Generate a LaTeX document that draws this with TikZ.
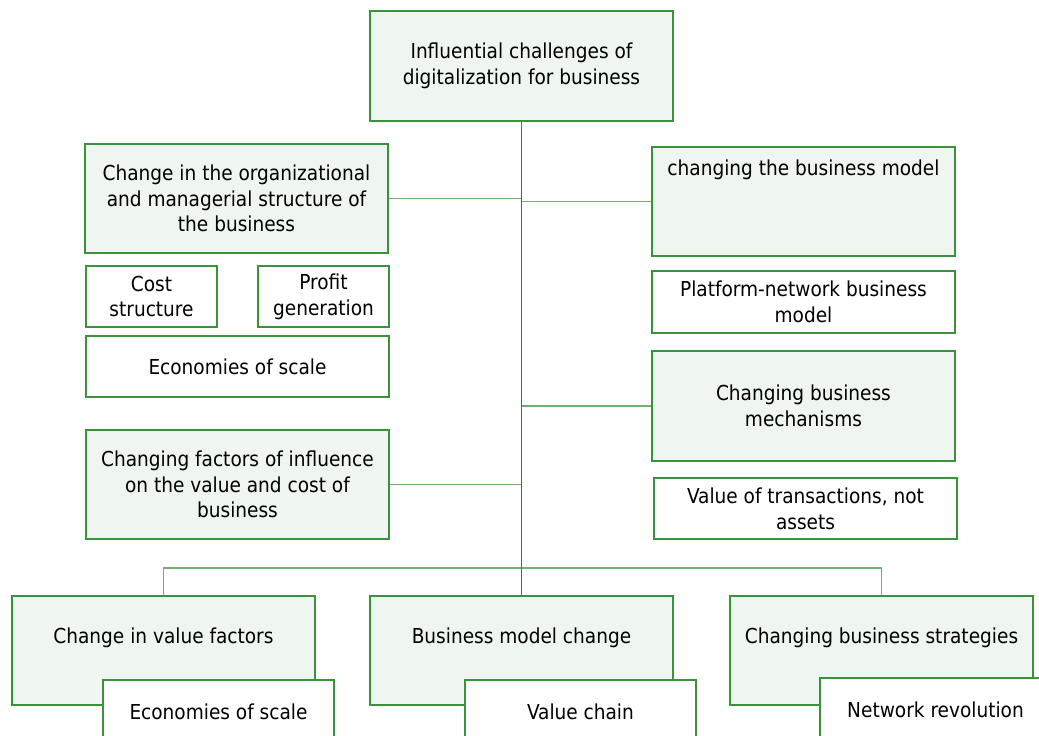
\documentclass[tikz,border=0pt]{standalone}
\usepackage{fontspec}
\setmainfont{DejaVu Sans Condensed}
\definecolor{bgreen}{HTML}{3A933A}
\definecolor{dgreen}{HTML}{2A862A}
\definecolor{lgreen}{HTML}{6FB26F}
\definecolor{boxfill}{HTML}{EFF5F0}
\tikzset{
  gbox/.style={draw=bgreen, line width=1.3pt, fill=boxfill, rectangle, inner sep=2pt, align=center, font=\fontsize{20.6}{25.7}\selectfont},
  wbox/.style={gbox, fill=white},
  lbl/.style={inner sep=0pt, align=center, font=\fontsize{20.6}{25.7}\selectfont},
  conn/.style={draw=lgreen, line width=1.4pt},
  trunk/.style={draw=dgreen, line width=1.7pt},
}
\begin{document}
\begin{tikzpicture}[x=1pt,y=-1pt]
\useasboundingbox (0,0) rectangle (1039,736);
\clip (0,0) rectangle (1039,736);
% top
\node[gbox, minimum width=303, minimum height=110] (top) at (521.5,66) {Influential challenges of\\digitalization for business};
% left column
\node[gbox, minimum width=303, minimum height=109] (org) at (236.5,198.5) {Change in the organizational\\and managerial structure of\\the business};
\node[wbox, minimum width=131, minimum height=61] (cost) at (151.5,296.5) {Cost\\structure};
\node[wbox, minimum width=131, minimum height=61] (profit) at (323.5,296.5) {Profit\\generation};
\node[wbox, minimum width=303, minimum height=61] (eco1) at (237.5,366.5) {Economies of scale};
\node[gbox, minimum width=303, minimum height=109] (fact) at (237.5,484.5) {Changing factors of influence\\on the value and cost of\\business};
% right column
\node[gbox, minimum width=303, minimum height=109] (cbm) at (803.5,201.5) {};
\node[lbl] (cbmt) at (803.5,170) {changing the business model};
\node[wbox, minimum width=303, minimum height=62] (plat) at (803.5,302) {Platform-network business\\model};
\node[gbox, minimum width=303, minimum height=110] (mech) at (803.5,406) {Changing business\\mechanisms};
\node[wbox, minimum width=303, minimum height=61] (val) at (805.5,508.5) {Value of transactions, not\\assets};
% bottom
\node[gbox, minimum width=303, minimum height=109] (cvf) at (163.5,650.5) {};
\node[lbl] (cvft) at (163.5,638) {Change in value factors};
\node[wbox, minimum width=231, minimum height=64] (eco2) at (218.5,712) {Economies of scale};
\node[gbox, minimum width=303, minimum height=109] (bmc) at (521.5,650.5) {};
\node[lbl] (bmct) at (521.5,638) {Business model change};
\node[wbox, minimum width=231, minimum height=64] (vch) at (580.5,712) {Value chain};
\node[gbox, minimum width=303, minimum height=109] (cbs) at (881.5,650.5) {};
\node[lbl] (cbst) at (881.5,638) {Changing business strategies};
\node[wbox, minimum width=231, minimum height=64] (net) at (935.5,710) {Network revolution};
% connectors
\coordinate (bar) at (521.5,568);
\draw[conn] (org.east) -- (org.east -| top.south);
\draw[conn] (fact.east) -- (fact.east -| top.south);
\draw[conn] (cbm.west) -- (cbm.west -| top.south);
\draw[conn] (mech.west) -- (mech.west -| top.south);
\draw[conn] (cvf.north) -- (cvf.north |- bar) -- (cbs.north |- bar) -- (cbs.north);
\draw[trunk] (top.south) -- (bmc.north);
\end{tikzpicture}
\end{document}
